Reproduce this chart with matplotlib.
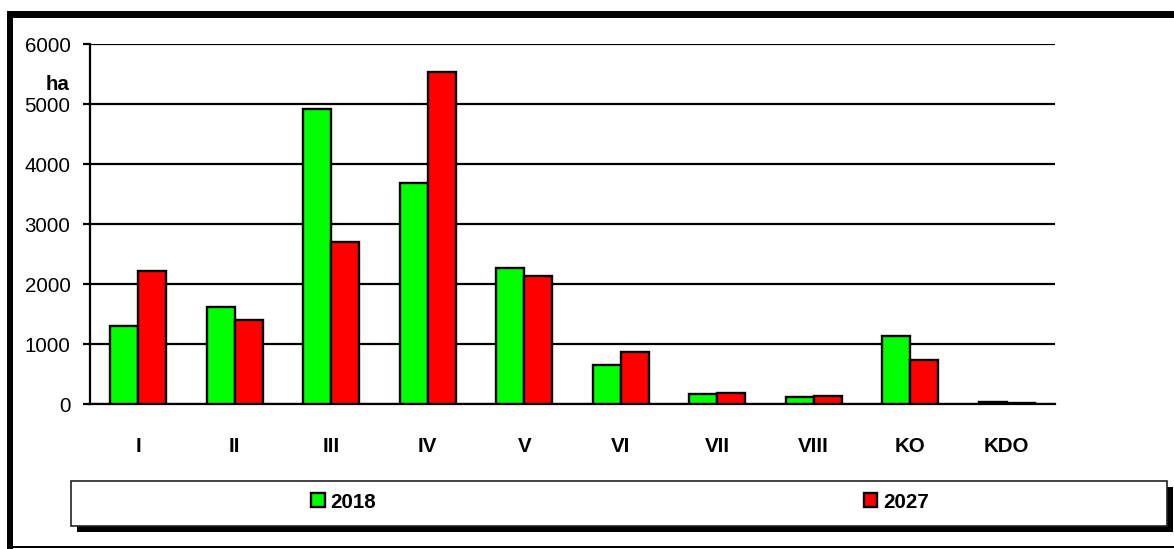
import numpy as np
import matplotlib
matplotlib.use("Agg")
import matplotlib.pyplot as plt
from matplotlib.patches import Rectangle

plt.rcParams['font.family'] = ['Liberation Sans', 'DejaVu Sans']

# area by class, ha
classes = ["I", "II", "III", "IV", "V", "VI", "VII", "VIII", "KO", "KDO"]
area_2018 = [1300, 1610, 4910, 3680, 2260, 645, 170, 120, 1140, 40]
area_2027 = [2210, 1400, 2700, 5540, 2140, 872, 190, 140, 740, 10]
years = ["2018", "2027"]
colors = ["#00FF00", "#FF0000"]
yticks = [0, 1000, 2000, 3000, 4000, 5000, 6000]

W, H = 1174, 549
fig = plt.figure(figsize=(W / 100, H / 100), dpi=100)


def box(x, y, w, h, **kw):
    # rectangle given in pixel coords measured from the top-left corner
    r = Rectangle((x / W, 1 - (y + h) / H), w / W, h / H,
                  transform=fig.transFigure, **kw)
    fig.patches.append(r)
    return r


# outer chart frame
box(7, 11, 6, 538, facecolor="black", edgecolor="none")
box(7, 11, 1167, 7, facecolor="black", edgecolor="none")
box(7, 546, 1167, 1.5, facecolor="black", edgecolor="none")

ax = fig.add_axes([90 / W, 1 - 404 / H, 965 / W, 360 / H])
x = np.arange(len(classes))
bw = 0.29
ax.bar(x - bw / 2, area_2018, bw, color=colors[0], edgecolor="black",
       linewidth=1.7, label=years[0], zorder=3)
ax.bar(x + bw / 2, area_2027, bw, color=colors[1], edgecolor="black",
       linewidth=1.7, label=years[1], zorder=3)

ax.set_xlim(-0.5, len(classes) - 0.5)
ax.set_ylim(0, 6000)
ax.set_yticks(yticks)
ax.set_xticks(x)
ax.set_xticklabels(classes, fontweight="bold")
ax.yaxis.grid(True, color="black", linewidth=1.6, zorder=0)
ax.set_axisbelow(True)
for s in ["top", "right"]:
    ax.spines[s].set_visible(False)
for s in ["left", "bottom"]:
    ax.spines[s].set_linewidth(1.6)
ax.tick_params(axis="y", labelsize=14.8, length=5, width=1.6, pad=9)
ax.tick_params(axis="x", labelsize=14.8, length=0, pad=24)

fig.text(58 / W, 1 - 85 / H, "ha", fontsize=14.8, fontweight="bold",
         ha="center", va="center")

# legend box with drop shadow
box(77, 487, 1096, 45, facecolor="black", edgecolor="none")
box(71, 481, 1096, 45, facecolor="white", edgecolor="#222222", linewidth=1.2)

handles, labels = ax.get_legend_handles_labels()
fig.legend(handles, labels, loc="center", bbox_to_anchor=(620 / W, 1 - 502 / H),
           ncol=2, frameon=False, prop={"size": 14.8, "weight": "bold"},
           handlelength=0.65, handleheight=0.65, handletextpad=0.3,
           columnspacing=23.7)

fig.savefig("out.png", dpi=100)
